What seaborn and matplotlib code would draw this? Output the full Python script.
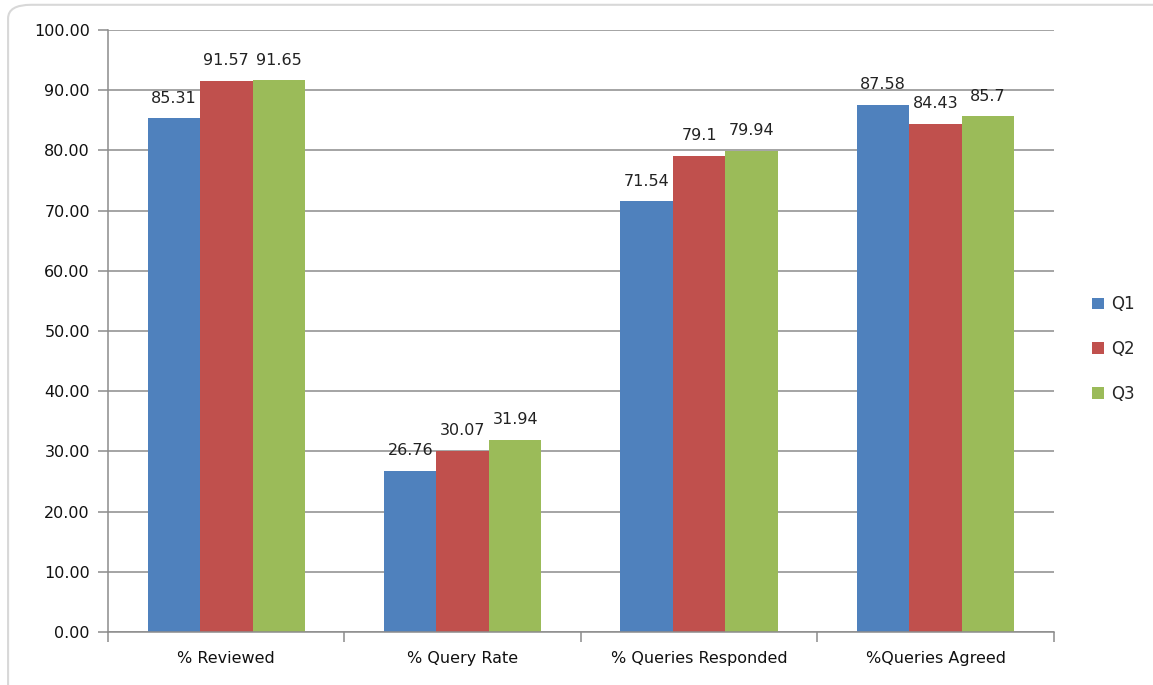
import pandas as pd
import seaborn as sns
import matplotlib.pyplot as plt
from matplotlib.patches import FancyBboxPatch
from matplotlib.ticker import FormatStrFormatter, MultipleLocator

metrics = ["% Reviewed", "% Query Rate", "% Queries Responded", "%Queries Agreed"]
quarters = ["Q1", "Q2", "Q3"]
q1 = [85.31, 26.76, 71.54, 87.58]
q2 = [91.57, 30.07, 79.1, 84.43]
q3 = [91.65, 31.94, 79.94, 85.7]

df = pd.DataFrame({
    "metric": metrics * 3,
    "quarter": [q for q in quarters for _ in metrics],
    "value": q1 + q2 + q3,
})

sns.set_theme(style="white")
plt.rcParams["font.family"] = ["DejaVu Sans"]

colors = ["#4F81BD", "#C0504D", "#9BBB59"]
grid_col = "#8c8c8c"

fig = plt.figure(figsize=(11.53, 6.85), dpi=100)
ax = fig.add_axes([0.0937, 0.0774, 0.8203, 0.8788])

sns.barplot(data=df, x="metric", y="value", hue="quarter", palette=colors,
            saturation=1, width=0.666, linewidth=0, ax=ax)

for cont in ax.containers:
    ax.bar_label(cont, labels=[f"{v:g}" for v in cont.datavalues],
                 padding=9, fontsize=11.5, color="#222222")

ax.set_ylim(0, 100)
ax.set_xlim(-0.5, 3.5)
ax.yaxis.set_major_locator(MultipleLocator(10))
ax.yaxis.set_major_formatter(FormatStrFormatter("%.2f"))
ax.yaxis.grid(True, color=grid_col, linewidth=1.1)
ax.set_axisbelow(True)
ax.set_xlabel("")
ax.set_ylabel("")

for s in ["top", "right"]:
    ax.spines[s].set_visible(False)
for s in ["left", "bottom"]:
    ax.spines[s].set_color(grid_col)
    ax.spines[s].set_linewidth(1.1)

ax.tick_params(axis="y", length=7, width=1.1, color=grid_col, direction="out",
               left=True, labelsize=11.5, labelcolor="#111111", pad=6)
ax.tick_params(axis="x", which="major", length=0, labelsize=11.5,
               labelcolor="#111111", pad=14)
ax.set_xticks([-0.5, 0.5, 1.5, 2.5, 3.5], minor=True)
ax.tick_params(axis="x", which="minor", length=7, width=1.1, color=grid_col,
               direction="out", bottom=True)

leg = ax.legend(loc="center left", bbox_to_anchor=(1.025, 0.47), frameon=False,
                fontsize=12, labelspacing=1.6, handlelength=0.7, handleheight=0.7,
                handletextpad=0.4)

fig.patches.append(FancyBboxPatch((0.007, -0.05), 1.05, 1.043,
                                  boxstyle="round,pad=0,rounding_size=0.02",
                                  transform=fig.transFigure, fill=False,
                                  edgecolor="#d8d8d8", linewidth=1.5))

fig.savefig("out.png", dpi=100)
